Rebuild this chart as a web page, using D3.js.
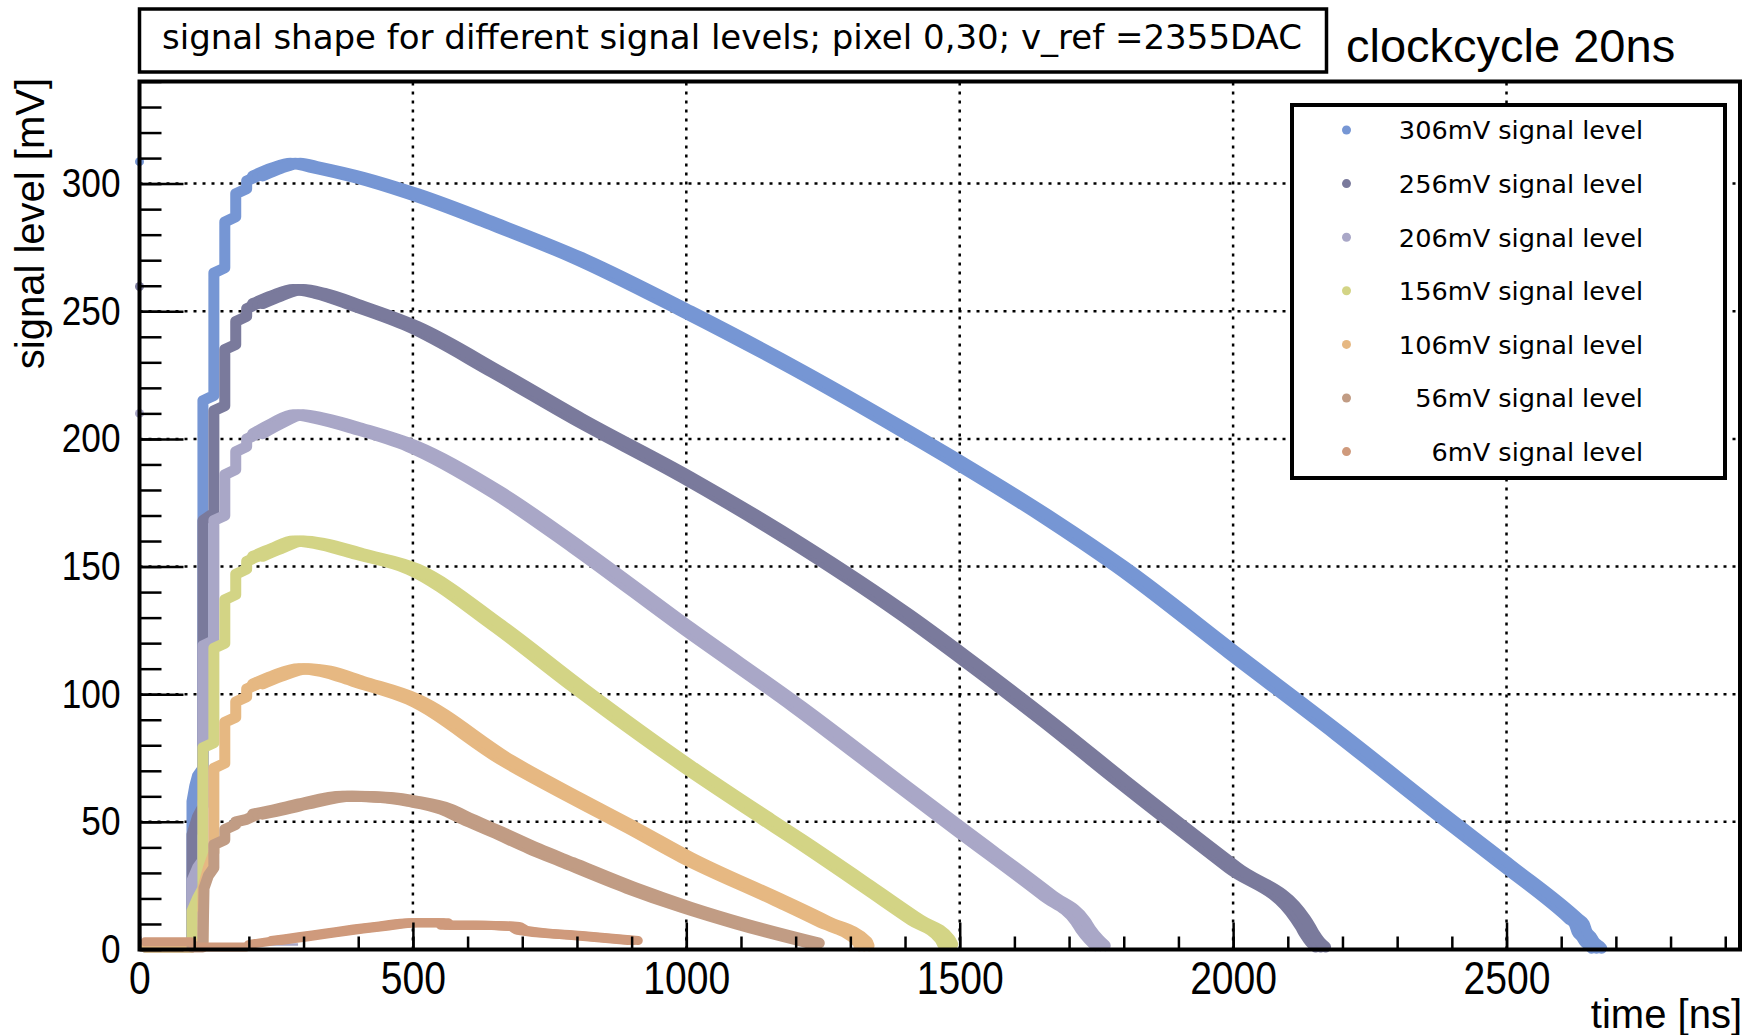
<!DOCTYPE html>
<html>
<head>
<meta charset="utf-8">
<script src="https://d3js.org/d3.v7.min.js"></script>
<style>
  body { margin: 0; background: #fff; }
</style>
</head>
<body>
<div id="my_dataviz"></div>
<script>
// legend labels, top to bottom (also the drawing order)
const levels = ["306mV", "256mV", "206mV", "156mV", "106mV", "56mV", "6mV"];
const colors = ["#7696d4", "#7a7a9c", "#a9a7c7", "#d3d485", "#e6b882", "#c19c84", "#cf9a7c"];

const s306 = [[10,1],[96,1],[96,58],[101,64],[106,68],[116,71],[116,215],[136,217],[136,265],[156,267],[156,285],[176,287],[176,296],[196,298],[196,301],[216,303],[250,306],[285,308],[320,306.5],[400,302.5],[500,296],[650,284],[800,271],[1000,250],[1204,227],[1401,203],[1500,190.5],[1662,169],[1793,150],[2000,116],[2196,84],[2379,53],[2500,33],[2623,12],[2633,10],[2638,7],[2646,5],[2652,3],[2660,1.5],[2665,0.5]];
const s256 = [[10,1],[96,1],[96,45],[106,52],[116,56],[116,168],[136,171],[136,211],[156,213],[156,235],[176,237],[176,246],[196,248],[196,251],[216,253],[250,256],[290,258.5],[330,257],[400,252],[500,244],[654,226],[800,208],[1000,185],[1204,159],[1401,131],[1500,115.5],[1662,89],[1793,66.5],[2000,32],[2123,12],[2132,9],[2140,6],[2150,3],[2160,1]];
const s206 = [[10,1],[96,1],[96,27],[106,32],[116,35],[116,119],[136,121],[136,168],[156,170],[156,186],[176,188],[176,195],[196,197],[196,200],[216,202],[250,206],[290,209.5],[330,208],[400,204],[500,197],[654,179],[800,157.5],[1000,126],[1204,95],[1401,63],[1500,47],[1662,21],[1721,11],[1730,8],[1745,4],[1757,1.5]];
const s156 = [[10,1],[96,1],[96,15],[106,20],[116,24],[116,79],[136,81],[136,118],[156,120],[156,137],[176,139],[176,147],[196,149],[196,152],[216,154],[250,157],[290,160],[330,159],[400,155],[500,149],[654,127],[800,103],[1000,72],[1147,51],[1204,43],[1335,24],[1420,11.5],[1473,4],[1478,2]];
const s106 = [[10,1],[96,1],[116,3],[116,24],[126,32],[136,38],[136,71],[156,73],[156,89],[176,91],[176,97],[196,99],[196,102],[216,104],[250,107],[300,110],[340,109],[400,105],[500,98],[672,74],[800,59],[902,47.5],[1000,36],[1172,19],[1250,11],[1322,3],[1325,1.5]];
const s56 = [[96,1],[116,1],[118,24],[126,29],[136,32],[136,41],[156,43],[156,47],[176,49],[176,50],[196,51],[216,53],[260,55],[300,57],[380,60],[450,59.5],[500,58],[560,55],[600,51],[654,46],[721,39.5],[784,34],[900,24],[1000,16.5],[1100,10],[1234,2.5]];
const s6 = [[10,3],[95,3],[100,1],[195,1],[200,2],[250,3.5],[300,5],[350,6.5],[400,8],[450,9.3],[500,10.5],[556,10.5],[560,9.5],[620,9.5],[686,9],[700,7.5],[800,5.5],[903,3.5]];
const series = [s306, s256, s206, s156, s106, s56, s6];

// stray first samples sitting on the y axis, and the flat pedestal line
const firstT = [0, 0, 0];
const firstV = [308.6, 259.7, 210];
const pedestal = [[0,2],[290,2]];

const xTicks = [0, 500, 1000, 1500, 2000, 2500];
const yTicks = [0, 50, 100, 150, 200, 250, 300];

const W = 1755, H = 1035;
const svg = d3.select("#my_dataviz")
  .append("svg")
    .attr("width", W)
    .attr("height", H)
    .style("display", "block");

svg.append("rect").attr("width", W).attr("height", H).attr("fill", "#fff");

const x = d3.scaleLinear().domain([0, 2927]).range([139.5, 1740]);
const y = d3.scaleLinear().domain([0, 340]).range([949.5, 81.5]);

const sans = "'Liberation Sans', Arial, sans-serif";
const dejavu = "'DejaVu Sans', Verdana, sans-serif";

// dotted grid
const grid = svg.append("g")
  .attr("stroke", "#000")
  .attr("stroke-width", 2.5)
  .attr("stroke-dasharray", "3,6");
grid.selectAll("line.gx")
  .data(xTicks.slice(1))
  .join("line")
    .attr("x1", d => x(d)).attr("x2", d => x(d))
    .attr("y1", y(0)).attr("y2", y(340));
grid.selectAll("line.gy")
  .data(yTicks.slice(1))
  .join("line")
    .attr("x1", x(0)).attr("x2", x(2927))
    .attr("y1", d => y(d)).attr("y2", d => y(d));

// pulses: staircase rise drawn straight, the decay smoothed
const stepLine = d3.line().x(d => x(d[0])).y(d => y(d[1]));
const smoothLine = d3.line().x(d => x(d[0])).y(d => y(d[1])).curve(d3.curveMonotoneX);

svg.append("path")
  .attr("d", stepLine(pedestal))
  .attr("fill", "none")
  .attr("stroke", colors[2])
  .attr("stroke-width", 2.5);

const curves = svg.append("g")
  .attr("fill", "none")
  .attr("stroke-linejoin", "round")
  .attr("stroke-linecap", "round");
series.forEach((s, i) => {
  const i0 = s.findIndex(d => d[0] >= 216);
  const rise = s.slice(0, i0 + 1), decay = s.slice(i0);
  const sw = i == 6 ? 9 : 11;
  curves.append("path")
    .attr("d", stepLine(rise))
    .attr("stroke", colors[i])
    .attr("stroke-width", sw);
  // the decay band smears a little along time, so it gets fatter where it is steep
  [-5, 0, 5].forEach(dx => {
    curves.append("path")
      .attr("d", smoothLine(decay))
      .attr("transform", `translate(${dx},0)`)
      .attr("stroke", colors[i])
      .attr("stroke-width", sw);
  });
});

svg.append("g")
  .selectAll("circle")
  .data(firstV)
  .join("circle")
    .attr("cx", (d, i) => x(firstT[i]))
    .attr("cy", d => y(d))
    .attr("r", 4.5)
    .attr("fill", (d, i) => colors[i]);

// axes, ROOT style: ticks inside the frame, condensed labels
function styleAxis(g, size, squeeze) {
  g.select(".domain").remove();
  g.selectAll(".tick line").attr("stroke", "#000").attr("stroke-width", 2.5);
  g.attr("font-family", sans).attr("font-size", size);
  g.selectAll(".tick text")
    .attr("fill", "#000")
    .each(function() {
      const w = this.getComputedTextLength();
      if (w > 0) d3.select(this).attr("textLength", w * squeeze).attr("lengthAdjust", "spacingAndGlyphs");
    });
}

svg.append("g")
  .attr("transform", `translate(0,${y(0)})`)
  .call(d3.axisBottom(x).tickValues(d3.range(0, 2927, 100)).tickSizeInner(-13).tickSizeOuter(0).tickFormat(""))
  .call(styleAxis, 46, 1);
svg.append("g")
  .attr("transform", `translate(0,${y(0)})`)
  .call(d3.axisBottom(x).tickValues(xTicks).tickSizeInner(-27).tickSizeOuter(0).tickPadding(12).tickFormat(d3.format("d")))
  .call(styleAxis, 46, 0.85);

svg.append("g")
  .attr("transform", `translate(${x(0)},0)`)
  .call(d3.axisLeft(y).tickValues(d3.range(0, 341, 10)).tickSizeInner(-22).tickSizeOuter(0).tickFormat(""))
  .call(styleAxis, 40, 1);
svg.append("g")
  .attr("transform", `translate(${x(0)},0)`)
  .call(d3.axisLeft(y).tickValues(yTicks).tickSizeInner(-44).tickSizeOuter(0).tickPadding(19).tickFormat(d3.format("d")))
  .call(styleAxis, 40, 0.88);

// frame
svg.append("rect")
  .attr("x", x(0)).attr("y", y(340))
  .attr("width", x(2927) - x(0)).attr("height", y(0) - y(340))
  .attr("fill", "none")
  .attr("stroke", "#000")
  .attr("stroke-width", 4);

// axis titles
svg.append("text")
  .attr("x", 1742).attr("y", 1028)
  .attr("text-anchor", "end")
  .attr("font-family", sans).attr("font-size", 40)
  .text("time [ns]");
svg.append("text")
  .attr("transform", "translate(44,78) rotate(-90)")
  .attr("text-anchor", "end")
  .attr("font-family", sans).attr("font-size", 40)
  .text("signal level [mV]");

// title box
svg.append("rect")
  .attr("x", 139.5).attr("y", 9)
  .attr("width", 1187).attr("height", 63)
  .attr("fill", "#fff")
  .attr("stroke", "#000")
  .attr("stroke-width", 3.5);
svg.append("text")
  .attr("x", 162).attr("y", 49)
  .attr("font-family", dejavu).attr("font-size", 34)
  .attr("textLength", 1140).attr("lengthAdjust", "spacingAndGlyphs")
  .text("signal shape for different signal levels; pixel 0,30; v_ref =2355DAC");
svg.append("text")
  .attr("x", 1346).attr("y", 61.5)
  .attr("font-family", sans).attr("font-size", 47)
  .text("clockcycle 20ns");

// legend
const leg = svg.append("g");
leg.append("rect")
  .attr("x", 1292).attr("y", 105)
  .attr("width", 433).attr("height", 373)
  .attr("fill", "#fff")
  .attr("stroke", "#000")
  .attr("stroke-width", 4);
const rows = leg.selectAll("g.row")
  .data(levels)
  .join("g")
    .attr("transform", (d, i) => `translate(0,${130 + i * 53.6})`);
rows.append("circle")
  .attr("cx", 1346.5).attr("cy", 0).attr("r", 4.5)
  .attr("fill", (d, i) => colors[i]);
rows.append("text")
  .attr("x", 1643).attr("y", 9.4)
  .attr("text-anchor", "end")
  .attr("font-family", dejavu).attr("font-size", 25.6)
  .text(d => d + " signal level");
</script>
</body>
</html>
